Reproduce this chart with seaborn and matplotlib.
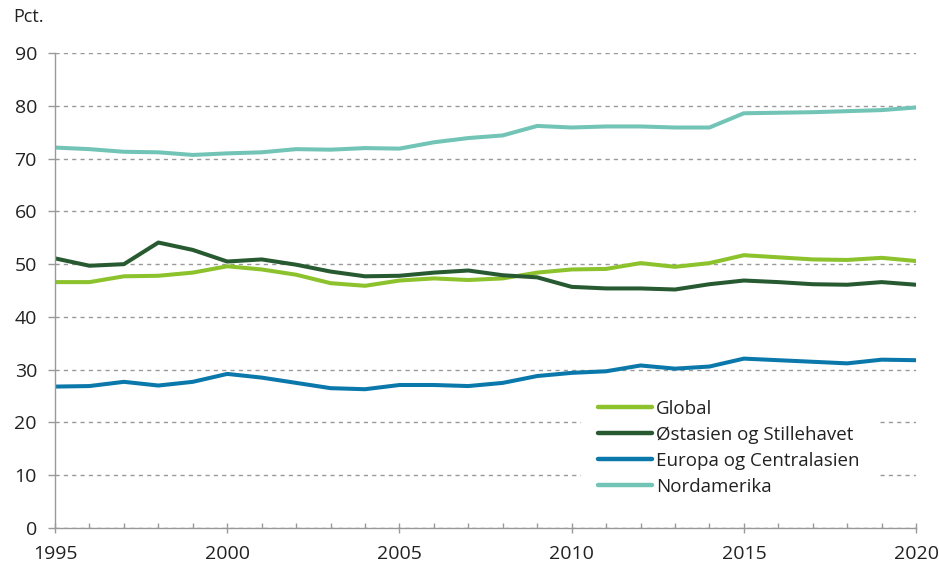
import numpy as np
import pandas as pd
import matplotlib
matplotlib.use("Agg")
import matplotlib.pyplot as plt
from matplotlib.ticker import MultipleLocator
import seaborn as sns

years = list(range(1995, 2021))
global_vals = [46.6, 46.6, 47.7, 47.8, 48.4, 49.6, 49.0, 48.0, 46.4, 45.9, 46.9, 47.3, 47.0,
               47.3, 48.4, 49.0, 49.1, 50.2, 49.5, 50.2, 51.7, 51.3, 50.9, 50.8, 51.2, 50.6]
ostasien = [51.1, 49.7, 50.0, 54.1, 52.7, 50.5, 50.9, 49.9, 48.6, 47.7, 47.8, 48.4, 48.8,
            47.9, 47.5, 45.7, 45.4, 45.4, 45.2, 46.2, 46.9, 46.6, 46.2, 46.1, 46.6, 46.1]
europa = [26.8, 26.9, 27.7, 27.0, 27.7, 29.2, 28.5, 27.5, 26.5, 26.3, 27.1, 27.1, 26.9,
          27.5, 28.8, 29.4, 29.7, 30.8, 30.2, 30.6, 32.1, 31.8, 31.5, 31.2, 31.9, 31.8]
nordamerika = [72.1, 71.8, 71.3, 71.2, 70.7, 71.0, 71.2, 71.8, 71.7, 72.0, 71.9, 73.1, 73.9,
               74.4, 76.2, 75.9, 76.1, 76.1, 75.9, 75.9, 78.6, 78.7, 78.8, 79.0, 79.2, 79.7]

series = ["Global", "Østasien og Stillehavet", "Europa og Centralasien", "Nordamerika"]
colors = ["#8cc22b", "#285a32", "#0a78aa", "#72c5b6"]

df = pd.DataFrame({
    "year": years * 4,
    "value": global_vals + ostasien + europa + nordamerika,
    "series": [s for s in series for _ in years],
})

sns.set_style("white")
plt.rcParams["font.family"] = ["Open Sans", "DejaVu Sans"]

fig = plt.figure(figsize=(9.39, 5.65), dpi=100)
ax = fig.add_axes([0.0586, 0.0655, 0.917, 0.8405])

sns.lineplot(data=df, x="year", y="value", hue="series", palette=colors,
             hue_order=series, linewidth=2.9, ax=ax)

ax.set_xlim(1995, 2020)
ax.set_ylim(0, 90)
ax.set_xticks([1995, 2000, 2005, 2010, 2015, 2020])
ax.xaxis.set_minor_locator(MultipleLocator(1))
ax.set_yticks(range(0, 91, 10))
ax.yaxis.grid(True, color="#999999", linestyle=(0, (3, 3)), linewidth=1)
ax.set_axisbelow(True)
ax.set_xlabel("")
ax.set_ylabel("")

for s in ["top", "right"]:
    ax.spines[s].set_visible(False)
for s in ["left", "bottom"]:
    ax.spines[s].set_color("#999999")
    ax.spines[s].set_linewidth(1)

ax.tick_params(axis="x", which="major", length=7.2, width=1, color="#999999",
               labelsize=14, labelcolor="#222222", pad=9, direction="inout", bottom=True)
ax.tick_params(axis="x", which="minor", length=3.6, width=1, color="#999999",
               direction="in", bottom=True)
ax.tick_params(axis="y", which="major", length=5, width=1, color="#999999",
               labelsize=14, labelcolor="#222222", pad=8, left=True)

ax.text(-0.048, 1.075, "Pct.", transform=ax.transAxes, fontsize=13,
        color="#222222", ha="left", va="center")

leg = ax.legend(loc="upper left", bbox_to_anchor=(0.611, 0.305), frameon=True,
                fancybox=False, edgecolor="none", facecolor="white", framealpha=1,
                fontsize=13.5, handlelength=2.9, handletextpad=0.2, labelspacing=0.42,
                borderpad=0.9, borderaxespad=0)
for line in leg.get_lines():
    line.set_linewidth(3.2)
for t in leg.get_texts():
    t.set_color("#222222")

fig.savefig("out.png", dpi=100)
